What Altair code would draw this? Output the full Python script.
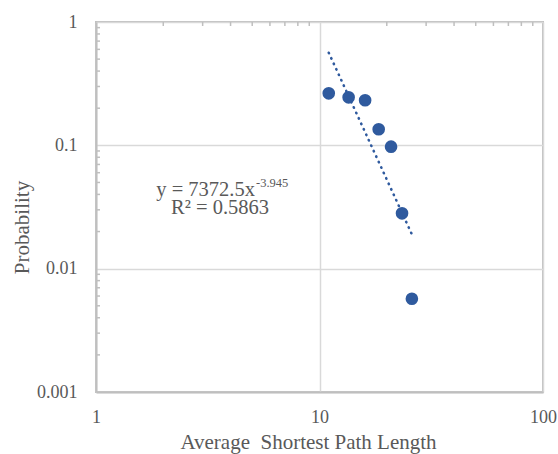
import altair as alt
import pandas as pd

# Data
path_length = [11.0, 13.5, 16.0, 18.4, 20.9, 23.4, 25.9]
probability = [0.264, 0.245, 0.232, 0.135, 0.0975, 0.0281, 0.0057]

x_ticks = [1, 10, 100]
y_ticks = [0.001, 0.01, 0.1, 1]
x_minor = [2, 3, 4, 5, 6, 7, 8, 9, 20, 30, 40, 50, 60, 70, 80, 90]
y_minor = [0.002, 0.003, 0.004, 0.005, 0.006, 0.007, 0.008, 0.009,
           0.02, 0.03, 0.04, 0.05, 0.06, 0.07, 0.08, 0.09,
           0.2, 0.3, 0.4, 0.5, 0.6, 0.7, 0.8, 0.9]

eq_main = "y = 7372.5x"
eq_exp = "-3.945"
r2_text = "R² = 0.5863"

FONT = "Liberation Serif"
GRAY = "#595959"
BLUE = "#2F5A9E"

df = pd.DataFrame({"x": path_length, "y": probability})
xm = pd.DataFrame({"x": x_minor})
ym = pd.DataFrame({"y": y_minor})

xscale = alt.Scale(type="log", domain=[1, 100], nice=False)
yscale = alt.Scale(type="log", domain=[0.001, 1], nice=False)

xaxis = alt.Axis(values=x_ticks, format="~g", ticks=False, grid=True,
                 gridColor="#D9D9D9", gridWidth=1.5,
                 domainColor="#BFBFBF", domainWidth=2,
                 labelFont=FONT, labelFontSize=18, labelColor=GRAY,
                 labelPadding=16, labelFlush=False,
                 title="Average\u00a0 Shortest Path Length",
                 titleFont=FONT, titleFontSize=21, titleColor=GRAY,
                 titleFontWeight="normal", titleX=212, titleY=50,
                 titleBaseline="middle", titleAlign="center")
yaxis = alt.Axis(values=y_ticks, format="~g", ticks=False, grid=True,
                 gridColor="#D9D9D9", gridWidth=1.5,
                 domainColor="#BFBFBF", domainWidth=2,
                 labelFont=FONT, labelFontSize=18, labelColor=GRAY,
                 labelPadding=19, labelFlush=False,
                 title="Probability",
                 titleFont=FONT, titleFontSize=21, titleColor=GRAY,
                 titleFontWeight="normal", titleX=-74, titleY=205,
                 titleAngle=-90, titleBaseline="middle", titleAlign="center")

base = alt.Chart(df)

points = base.mark_circle(size=160, color=BLUE, opacity=1).encode(
    x=alt.X("x:Q", scale=xscale, axis=xaxis),
    y=alt.Y("y:Q", scale=yscale, axis=yaxis),
)

trend = base.transform_regression("x", "y", method="pow").mark_line(
    color=BLUE, strokeWidth=2.6, strokeDash=[0.5, 5.5], strokeCap="round"
).encode(
    x=alt.X("x:Q", scale=xscale),
    y=alt.Y("y:Q", scale=yscale),
)

xminor = alt.Chart(xm).mark_rule(color="#BFBFBF", strokeWidth=1.5).encode(
    x=alt.X("x:Q", scale=xscale),
    y=alt.value(0), y2=alt.value(4),
)
yminor = alt.Chart(ym).mark_rule(color="#BFBFBF", strokeWidth=1.5).encode(
    y=alt.Y("y:Q", scale=yscale),
    x=alt.value(0), x2=alt.value(4),
)

ann1 = alt.Chart(pd.DataFrame({"t": [eq_main]})).mark_text(
    font=FONT, fontSize=20.5, color=GRAY, align="right", baseline="alphabetic"
).encode(text="t:N", x=alt.value(159), y=alt.value(174))
ann2 = alt.Chart(pd.DataFrame({"t": [eq_exp]})).mark_text(
    font=FONT, fontSize=12.5, color=GRAY, align="left", baseline="alphabetic"
).encode(text="t:N", x=alt.value(160), y=alt.value(165))
ann3 = alt.Chart(pd.DataFrame({"t": [r2_text]})).mark_text(
    font=FONT, fontSize=20.5, color=GRAY, align="center", baseline="alphabetic"
).encode(text="t:N", x=alt.value(124), y=alt.value(192))

chart = alt.layer(points, trend, xminor, yminor, ann1, ann2, ann3).properties(
    width=447, height=370,
    padding={"left": 96, "top": 22, "right": 15, "bottom": 62},
    autosize=alt.AutoSizeParams(type="none"),
    background="white",
).configure_view(
    stroke="#BFBFBF", strokeWidth=2
).configure_axis(
    labelFont=FONT, titleFont=FONT
).configure_text(font=FONT)

chart.save("out.html", embed_options={"renderer": "svg", "actions": False})
